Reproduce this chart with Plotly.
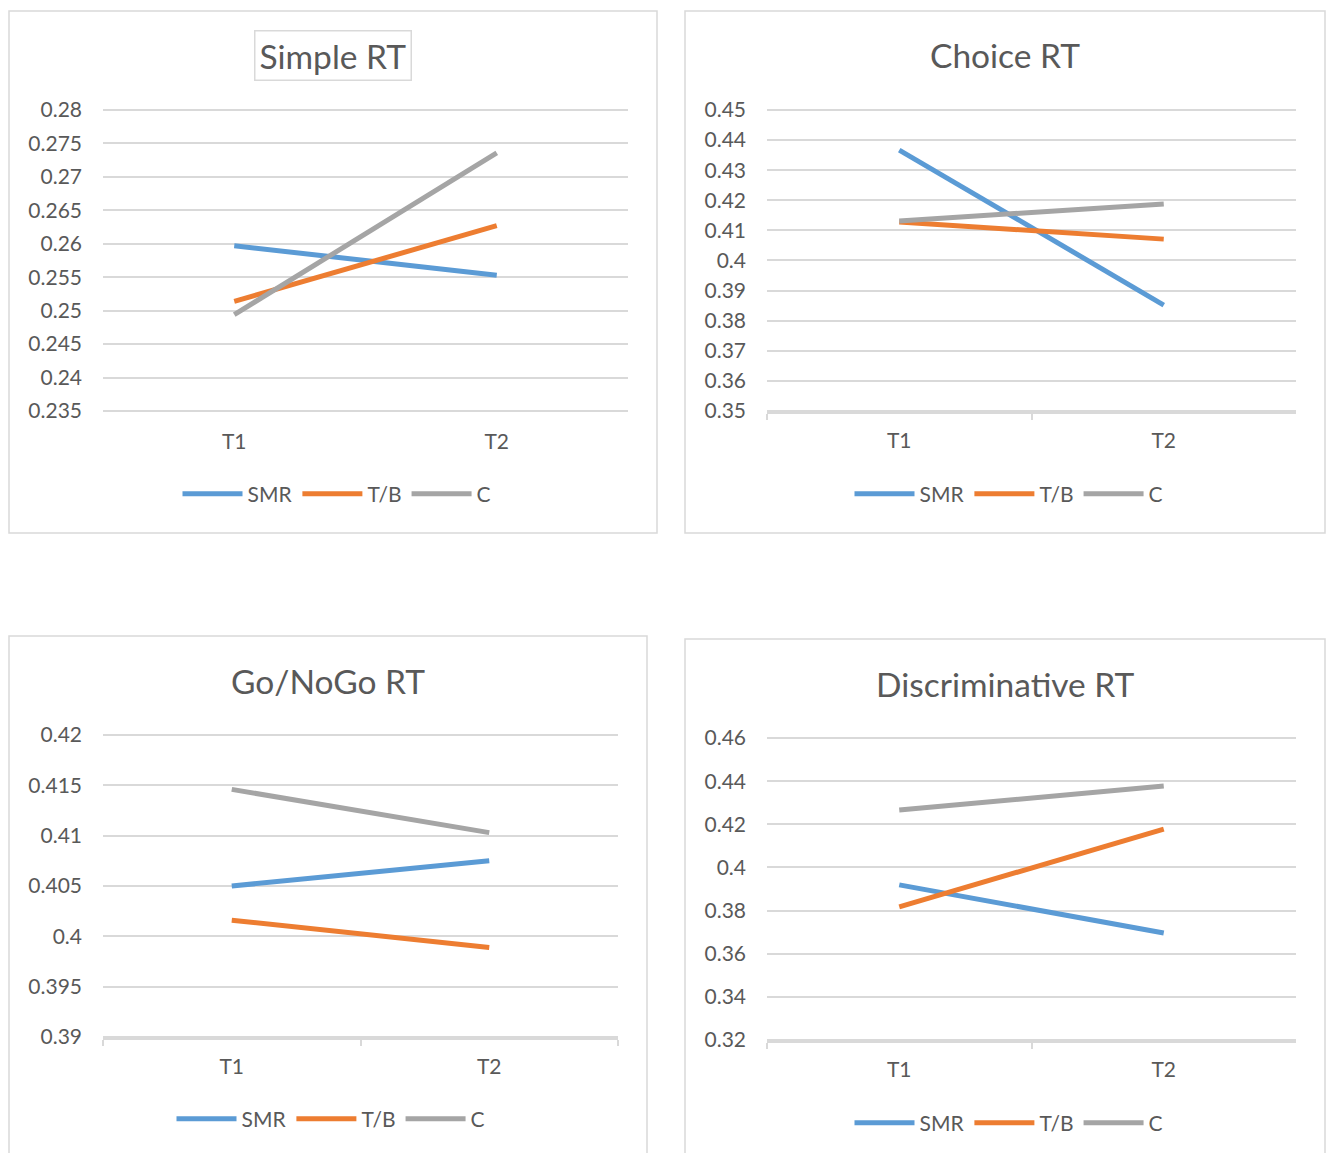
import plotly.graph_objects as go

W, H = 1331, 1153

categories = ["T1", "T2"]
groups = ["SMR", "T/B", "C"]
colors = ["#5B9BD5", "#ED7D31", "#A5A5A5"]

simple_smr = [0.2597, 0.2553]
simple_tb = [0.2514, 0.2627]
simple_c = [0.2494, 0.2736]

choice_smr = [0.4367, 0.3852]
choice_tb = [0.4128, 0.4071]
choice_c = [0.4131, 0.4188]

gonogo_smr = [0.4050, 0.4075]
gonogo_tb = [0.4016, 0.3989]
gonogo_c = [0.4146, 0.4103]

disc_smr = [0.3919, 0.3696]
disc_tb = [0.3817, 0.4178]
disc_c = [0.4266, 0.4377]

titles = ["Simple RT", "Choice RT", "Go/NoGo RT", "Discriminative RT"]
y_ranges = [(0.235, 0.28), (0.35, 0.45), (0.39, 0.42), (0.32, 0.46)]
y_dticks = [0.005, 0.01, 0.005, 0.02]
series = [
    [simple_smr, simple_tb, simple_c],
    [choice_smr, choice_tb, choice_c],
    [gonogo_smr, gonogo_tb, gonogo_c],
    [disc_smr, disc_tb, disc_c],
]

# layout geometry (pixels)
plot_px = [  # x0, x1, ytop, ybottom
    (103, 628, 110, 411),
    (767, 1296, 110, 411),
    (103, 618, 735, 1037),
    (767, 1296, 738, 1040),
]
boxes_px = [(9, 11, 657, 533), (685, 11, 1325, 533), (9, 636, 647, 1160), (685, 639, 1325, 1160)]
title_px = [(333, 55), (1005, 55), (328, 681), (1005, 684)]
legend_px = [(337, 494), (1009, 494), (331, 1119), (1009, 1123)]
show_axis_line = [False, True, True, True]

FONT = "Lato, 'Open Sans', sans-serif"
TXT = "#595959"
GRID = "#D9D9D9"

fig = go.Figure()
layout = dict(
    width=W, height=H, autosize=False,
    margin=dict(l=0, r=0, t=0, b=0, pad=0, autoexpand=False),
    paper_bgcolor="white", plot_bgcolor="white",
    font=dict(family=FONT, color=TXT),
    shapes=[], annotations=[],
)

for i in range(4):
    sfx = "" if i == 0 else str(i + 1)
    x0, x1, yt, yb = plot_px[i]
    lo, hi = y_ranges[i]
    span = hi - lo
    eps = span * 0.004
    pxu = (yb - yt) / span
    layout["xaxis" + sfx] = dict(
        domain=[x0 / W, x1 / W],
        anchor="y" + sfx,
        type="category",
        range=[-0.5, 1.5],
        showgrid=False,
        zeroline=False,
        automargin=False,
        showline=show_axis_line[i],
        linecolor=GRID, linewidth=1.5,
        ticks="outside" if show_axis_line[i] else "",
        tickson="boundaries",
        ticklen=6, tickcolor=GRID, tickwidth=1.5,
        tickfont=dict(size=21, color=TXT, family=FONT),
        ticklabelstandoff=9 if show_axis_line[i] else 15,
        fixedrange=True,
    )
    layout["yaxis" + sfx] = dict(
        domain=[1 - (yb + eps * pxu) / H, 1 - (yt - eps * pxu) / H],
        anchor="x" + sfx,
        range=[lo - eps, hi + eps],
        tick0=lo, dtick=y_dticks[i],
        showgrid=True, gridcolor=GRID, gridwidth=1.5,
        zeroline=False, showline=False,
        automargin=False,
        tickformat="~g",
        tickfont=dict(size=21, color=TXT, family=FONT),
        ticklabelstandoff=20,
        fixedrange=True,
    )
    leg = "legend" if i == 0 else "legend" + str(i + 1)
    lx, ly = legend_px[i]
    layout[leg] = dict(
        orientation="h", x=lx / W, y=1 - ly / H,
        xanchor="center", yanchor="middle",
        font=dict(size=21, color=TXT, family=FONT),
        bgcolor="rgba(0,0,0,0)",
        itemwidth=60,
        tracegroupgap=0,
    )
    for k in range(3):
        fig.add_trace(go.Scatter(
            x=categories, y=series[i][k], mode="lines", name=groups[k],
            line=dict(color=colors[k], width=5),
            xaxis="x" + sfx, yaxis="y" + sfx, legend=leg,
            hoverinfo="skip",
        ))
    bx0, by0, bx1, by1 = boxes_px[i]
    layout["shapes"].append(dict(
        type="rect", xref="paper", yref="paper",
        x0=bx0 / W, x1=bx1 / W, y0=1 - by1 / H, y1=1 - by0 / H,
        line=dict(color=GRID, width=1.5), fillcolor="rgba(0,0,0,0)", layer="below",
    ))
    tx, ty = title_px[i]
    ann = dict(
        text=titles[i], xref="paper", yref="paper",
        x=tx / W, y=1 - ty / H, xanchor="center", yanchor="middle",
        showarrow=False, font=dict(size=33.5, color=TXT, family=FONT),
    )
    if i == 0:
        ann.update(bordercolor=GRID, borderwidth=1.5, borderpad=4)
    layout["annotations"].append(ann)

fig.update_layout(**layout)
fig.write_html(
    "out.html",
    config={"responsive": False, "displayModeBar": False},
    post_script="document.body.style.margin='0';document.body.style.overflow='hidden';",
)
